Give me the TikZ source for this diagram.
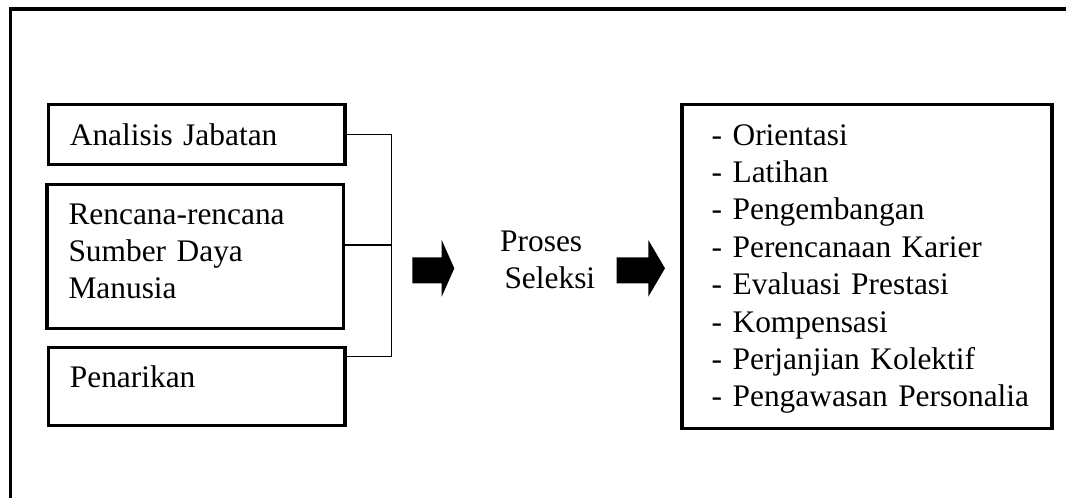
\documentclass[tikz,border=0pt]{standalone}
\usepackage{fontspec}
\setmainfont{Liberation Serif}
\begin{document}
\begin{tikzpicture}[x=1pt,y=-1pt,
  every node/.style={font=\fontsize{31.4}{37.3}\selectfont},
  box/.style={draw, line width=3.2pt, rectangle, inner xsep=21.5pt, inner ysep=0pt,
    minimum width=296.7pt, text width=253.7pt, align=left},
  rbox/.style={draw, line width=3.2pt, rectangle, inner xsep=29.7pt, inner ysep=0pt,
    minimum width=370pt, text width=310.6pt, align=left, minimum height=324pt,
    text height=22pt, text depth=265.4pt, font=\fontsize{31.4}{37.4}\selectfont},
  link/.style={line width=1.3pt},
  frame/.style={line width=3.3pt},
  blockarrow/.style={fill=black}]
\useasboundingbox (0,0) rectangle (1066,498);
\draw[frame] (10.7,498) -- (10.7,9) -- (1066,9);

\node[box, minimum height=60pt, text height=22pt, text depth=0pt] (b1) at (196.7,134.3) {Analisis Jabatan};
\node[box, minimum height=144.1pt, text height=22pt, text depth=86.5pt] (b2) at (195.35,256.25) {Rencana-rencana\\Sumber Daya\\Manusia};
\node[box, minimum height=78pt, text height=22pt, text depth=20.8pt] (b3) at (196.7,386.7) {Penarikan};

\coordinate (sp) at (391.7,0);
\coordinate (c2) at ([yshift=11.25pt]b2.east);
\coordinate (c3) at ([yshift=-10.6pt]b3.north east);
\draw[link] (b1.east) -- (b1.east -| sp) -- (c3 -| sp) -- (c3);
\draw[link] (c2) -- (c2 -| sp);

\node[anchor=base west, inner sep=0pt, text width=120pt, align=left, font=\fontsize{31.4}{36.6}\selectfont] (ps) at (500,251.7) {Proses\\\hspace*{4.3pt}Seleksi};

\fill[blockarrow] (412.3,257.3) -- (441.7,257.3) -- (441.7,240) -- (454.3,268.3) -- (441.7,296.7) -- (441.7,283.3) -- (412.3,283.3) -- cycle;
\fill[blockarrow] (616.7,257.3) -- (648.3,257.3) -- (648.3,240) -- (665,268.3) -- (648.3,296.7) -- (648.3,283.3) -- (616.7,283.3) -- cycle;

\node[rbox] (r) at (867,266.7) {- Orientasi\\- Latihan\\- Pengembangan\\- Perencanaan Karier\\- Evaluasi Prestasi\\- Kompensasi\\- Perjanjian Kolektif\\\mbox{- Pengawasan Personalia}};
\end{tikzpicture}
\end{document}
